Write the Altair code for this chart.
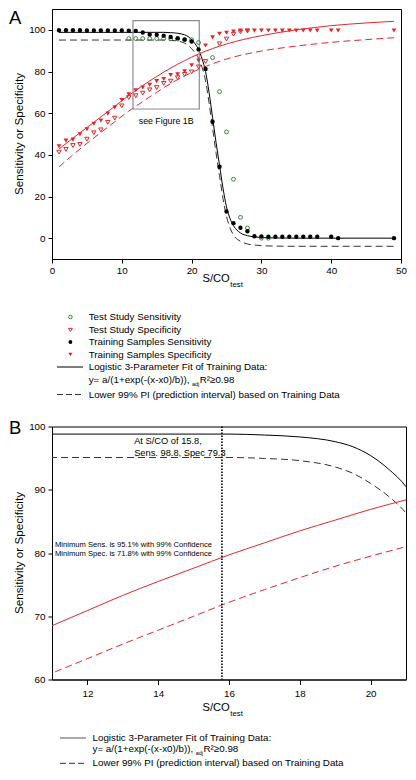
import altair as alt
import pandas as pd

FONT = "Liberation Sans"
RED = "#e4262c"
GREEN = "#3f7f3f"
DGRAY = "#333333"

# ---------------- values ----------------
# fitted sensitivity curve (solid black) and its lower 99% PI (dashed black)
sens_curve_x = [1, 5, 10, 14, 16, 17, 18, 19, 19.5, 20, 20.5, 21, 21.5, 22, 22.5, 23, 23.5,
                24, 24.5, 25, 25.5, 26, 27, 28, 29, 30, 32, 35, 40, 49]
sens_fit_y = [98.8, 98.8, 98.8, 98.8, 98.8, 98.65, 98.35, 97.6, 96.8, 95.4, 93.3, 90.5, 86.0,
              80.0, 70.0, 58.0, 46.0, 35.0, 24.0, 15.0, 9.5, 6.0, 2.5, 1.2, 0.6, 0.3, 0.1, 0.0, 0.0, 0.0]
sens_lo_y = [95.1, 95.1, 95.1, 95.1, 95.1, 94.95, 94.6, 93.6, 92.6, 91.0, 89.0, 86.3, 82.0,
             75.5, 65.0, 53.0, 41.0, 30.0, 19.0, 10.5, 5.0, 1.5, -1.5, -2.8, -3.3, -3.6, -3.8, -3.9, -3.9, -3.9]

# fitted specificity curve (solid red) and its lower 99% PI (dashed red)
spec_curve_x = [1, 3, 5, 7, 9, 11, 12, 13, 14, 15, 16, 17, 18, 19, 20, 21, 25, 30, 35, 40, 45, 49]
spec_fit_y = [42.8, 48.0, 53.1, 58.2, 63.3, 68.5, 70.9, 73.3, 75.5, 77.6, 79.7, 81.6, 83.5, 85.2,
              86.9, 88.4, 93.2, 97.2, 100.0, 102.0, 103.3, 104.1]
spec_lo_y = [34.2, 40.0, 45.5, 50.7, 55.9, 61.0, 63.3, 65.6, 67.8, 70.0, 72.2, 74.2, 76.1, 77.9,
             79.5, 81.0, 86.0, 89.8, 92.2, 94.0, 95.3, 96.2]

# Training samples sensitivity (filled black circles)
tr_sens_x = [1, 2, 3, 4, 5, 6, 7, 8, 9, 10, 11, 12, 13, 14, 15, 16, 17, 18, 19, 20, 21, 22, 23, 24,
             25, 26, 27, 28, 29, 30, 31, 32, 33, 34, 35, 36, 37, 38, 40, 41, 49]
tr_sens_y = [99.8, 99.8, 99.8, 99.8, 99.7, 99.7, 99.7, 99.7, 99.7, 99.7, 99.6, 99.5, 98.7, 97.8,
             97.6, 97.2, 96.6, 96.0, 95.3, 94.4, 90.6, 81.2, 55.9, 34.3, 12.8, 7.2, 5.0, 3.3, 0.9,
             0.8, 0.7, 0.7, 0.7, 0.7, 0.7, 0.7, 0.7, 0.7, 0.7, 0.0, 0.0]

# Test study sensitivity (open green circles)
te_sens_x = [11, 12, 13, 14, 15, 16, 17, 18, 19, 20, 21, 23, 24, 25, 26, 27, 28, 30, 31]
te_sens_y = [95.8, 95.8, 95.8, 95.8, 95.8, 95.8, 95.7, 95.6, 95.4, 95.2, 93.9, 86.7, 70.3, 51.0,
             28.3, 10.0, 4.9, 0.0, 0.0]

# Training samples specificity (filled red triangles)
tr_spec_x = [1, 2, 3, 4, 5, 6, 7, 8, 9, 10, 11, 12, 13, 14, 15, 16, 17, 18, 19, 20, 21, 22, 23, 24,
             25, 26, 27, 28, 29, 30, 31, 32, 33, 34, 35, 36, 37, 38, 40, 41, 49]
tr_spec_y = [44.1, 46.8, 47.3, 49.9, 52.3, 54.9, 56.5, 59.8, 62.8, 66.3, 69.0, 71.0, 72.3, 73.6,
             75.4, 76.4, 78.3, 78.6, 80.1, 83.0, 85.3, 92.5, 96.4, 98.1, 98.6, 99.2, 99.7, 99.7,
             99.6, 99.7, 99.7, 99.7, 99.6, 99.7, 99.7, 99.7, 99.7, 99.7, 99.7, 99.7, 99.7]

# Test study specificity (open red triangles)
te_spec_x = [1, 2, 3, 4, 5, 6, 7, 8, 9, 10, 11, 12, 13, 14, 15, 16, 17, 18, 19, 20, 21, 22,
             24, 25, 26, 27, 28]
te_spec_y = [41.3, 42.6, 44.5, 45.0, 47.5, 50.6, 52.0, 55.6, 57.6, 63.5, 67.5, 68.4, 69.6, 71.2,
             72.3, 74.3, 75.4, 77.0, 78.6, 79.8, 82.2, 84.8, 93.3, 95.6, 97.9, 99.0, 99.4]

# "see Figure 1B" box in panel A
box_x = [11.6, 21.1]
box_y = [62.0, 104.4]

# cut-off of panel B
cutoff = 15.8

legendA_labels = ["Test Study Sensitivity", "Test Study Specificity",
                  "Training Samples Sensitivity", "Training Samples Specificity"]
fit_label = "Logistic 3-Parameter Fit of Training Data:"
formula_main = "y= a/(1+exp(-(x-x0)/b)),"
formula_sub = "adj"
formula_end = "R\u00b2\u22650.98"
pi_label = "Lower 99% PI (prediction interval) based on Training Data"

# ---------------- helpers ----------------
WA, HA = 349, 250
WB, HB = 354, 253
LEFT = -43
LFS = 9.8  # legend font size


def df(xs, ys):
    return pd.DataFrame({"x": xs, "y": ys})


ONE = alt.Data(values=[{}])


def ptext(text, x, y, size=LFS, align="left", baseline="middle", angle=0, color="black"):
    return alt.Chart(ONE).mark_text(text=text, fontSize=size, font=FONT, align=align,
                                    baseline=baseline, angle=angle, color=color).encode(
        x=alt.value(x), y=alt.value(y))


def psym(shape, filled, color, x, y, size):
    return alt.Chart(ONE).mark_point(shape=shape, filled=filled, color=color, size=size,
                                     strokeWidth=1, opacity=1).encode(
        x=alt.value(x), y=alt.value(y))


def pline(x1, x2, y, color, dash=None, width=1):
    kw = dict(color=color, strokeWidth=width)
    if dash:
        kw["strokeDash"] = dash
    return alt.Chart(ONE).mark_rule(**kw).encode(x=alt.value(x1), x2=alt.value(x2), y=alt.value(y))


def enc_xy(xdom, xvals, ydom, yvals, tick_x, pad_x):
    ax = alt.Axis(values=xvals, title=None, grid=False, tickSize=tick_x, labelPadding=pad_x,
                  labelFlush=False)
    ay = alt.Axis(values=yvals, title=None, grid=False, tickSize=4, labelPadding=3)
    X = alt.X("x:Q", scale=alt.Scale(domain=xdom, nice=False, zero=False), axis=ax)
    Y = alt.Y("y:Q", scale=alt.Scale(domain=ydom, nice=False, zero=False), axis=ay)
    return X, Y


def curve(xs, ys, color, X, Y, dash=None):
    kw = dict(color=color, strokeWidth=1, interpolate="monotone", clip=True)
    if dash:
        kw["strokeDash"] = dash
    return alt.Chart(df(xs, ys)).mark_line(**kw).encode(x=X, y=Y)


def legend_fit(x_line0, x_line1, x_text, y_fit, y_form, y_pi, solid_color):
    return [
        pline(x_line0, x_line1, y_fit, solid_color),
        ptext(fit_label, x_text, y_fit),
        ptext(formula_main, x_text, y_form),
        ptext(formula_sub, x_text + 103.2, y_form + 4, size=5.5),
        ptext(formula_end, x_text + 111, y_form),
        pline(x_line0, x_line1, y_pi, DGRAY, dash=[6, 3]),
        ptext(pi_label, x_text, y_pi),
    ]


def xtitle(xend, y):
    return [ptext("S/CO", xend, y, size=11.2, align="right"),
            ptext("test", xend + 0.5, y + 6, size=7.8)]


# ---------------- panel A ----------------
XA, YA = enc_xy([0, 50], [0, 10, 20, 30, 40, 50], [-10, 110], [0, 20, 40, 60, 80, 100], 4, 2)

layersA = [
    curve(sens_curve_x, sens_fit_y, "black", XA, YA),
    curve(sens_curve_x, sens_lo_y, DGRAY, XA, YA, dash=[7, 4]),
    curve(spec_curve_x, spec_fit_y, RED, XA, YA),
    curve(spec_curve_x, spec_lo_y, RED, XA, YA, dash=[7, 4]),
    alt.Chart(pd.DataFrame({"x": [box_x[0]], "x2": [box_x[1]], "y": [box_y[0]], "y2": [box_y[1]]}))
    .mark_rect(fillOpacity=0, stroke="#8c8c8c", strokeWidth=1.2)
    .encode(x=XA, x2="x2:Q", y=YA, y2="y2:Q"),
    alt.Chart(pd.DataFrame({"x": [(box_x[0] + box_x[1]) / 2], "y": [56.3]}))
    .mark_text(text="see Figure 1B", fontSize=8.8, font=FONT, color="black")
    .encode(x=XA, y=YA),
    alt.Chart(df(te_sens_x, te_sens_y)).mark_point(shape="circle", filled=False, color=GREEN,
                                                  size=15, strokeWidth=1, opacity=1).encode(x=XA, y=YA),
    alt.Chart(df(te_spec_x, te_spec_y)).mark_point(shape="triangle-down", filled=False, color=RED,
                                                  size=19, strokeWidth=1, opacity=1).encode(x=XA, y=YA),
    alt.Chart(df(tr_sens_x, tr_sens_y)).mark_point(shape="circle", filled=True, color="black",
                                                  size=19, opacity=1).encode(x=XA, y=YA),
    alt.Chart(df(tr_spec_x, tr_spec_y)).mark_point(shape="triangle-down", filled=True, color=RED,
                                                  size=23, opacity=1).encode(x=XA, y=YA),
    ptext("A", LEFT, 0, size=18.5, baseline="top"),
    ptext("Sensitivity or Specificity", -33.5, HA / 2, size=11.7, align="center", angle=270),
]
layersA += xtitle(WA / 2 + 3.3, HA + 19.6)
symX, txtX = 18.4, 36.7
legA_y = [HA + 58, HA + 71, HA + 83, HA + 95.5]
layersA += [
    psym("circle", False, GREEN, symX, legA_y[0], 13),
    psym("triangle-down", False, RED, symX, legA_y[1], 15),
    psym("circle", True, "black", symX, legA_y[2], 15),
    psym("triangle-down", True, RED, symX, legA_y[3], 17),
]
for lab, yy in zip(legendA_labels, legA_y):
    layersA.append(ptext(lab, txtX, yy))
layersA += legend_fit(5, 31, txtX, HA + 108, HA + 120.8, HA + 135.5, "black")

panelA = alt.layer(*layersA).properties(width=WA, height=HA)

# ---------------- panel B ----------------
XB, YB = enc_xy([11, 21], [12, 14, 16, 18, 20], [60, 100], [60, 70, 80, 90, 100], 5, 3.5)

layersB = [
    curve(sens_curve_x, sens_fit_y, "black", XB, YB),
    curve(sens_curve_x, sens_lo_y, DGRAY, XB, YB, dash=[7, 4]),
    curve(spec_curve_x, spec_fit_y, RED, XB, YB),
    curve(spec_curve_x, spec_lo_y, RED, XB, YB, dash=[7, 4]),
    alt.Chart(pd.DataFrame({"x": [cutoff]})).mark_rule(color="black", strokeWidth=1.6,
                                                        strokeDash=[1.5, 1.5]).encode(x=XB),
    alt.Chart(pd.DataFrame({"x": [13.32, 13.32], "y": [97.7, 95.8],
                            "t": ["At S/CO of 15.8,", "Sens. 98.8, Spec 79.3"]}))
    .mark_text(fontSize=9.3, font=FONT, align="left", color="black")
    .encode(x=XB, y=YB, text="t:N"),
    alt.Chart(pd.DataFrame({"x": [15.52, 15.52], "y": [81.3, 79.8],
                            "t": ["Minimum Sens. is 95.1% with 99% Confidence",
                                  "Minimum Spec. is 71.8% with 99% Confidence"]}))
    .mark_text(fontSize=7.6, font=FONT, align="right", color="black")
    .encode(x=XB, y=YB, text="t:N"),
    ptext("B", LEFT, -8, size=18.5, baseline="top"),
    ptext("Sensitivity or Specificity", -33.5, HB / 2, size=11.7, align="center", angle=270),
]
layersB += xtitle(WB / 2 + 0.8, HB + 28.3)
layersB += legend_fit(8, 34, 40.5, HB + 58.5, HB + 69.2, HB + 83.8, "#555555")

panelB = alt.layer(*layersB).properties(width=WB, height=HB)

chart = (
    alt.vconcat(panelA, panelB, spacing=17.5)
    .properties(padding={"left": 0, "top": 0, "right": 0, "bottom": 0})
    .configure_view(stroke="black", strokeWidth=1)
    .configure_axis(labelFont=FONT, labelFontSize=9.8, labelColor="black", tickColor="black",
                    domainColor="black", domainWidth=1, tickWidth=1)
)

chart.save("out.html", embed_options={"renderer": "svg", "actions": False})
